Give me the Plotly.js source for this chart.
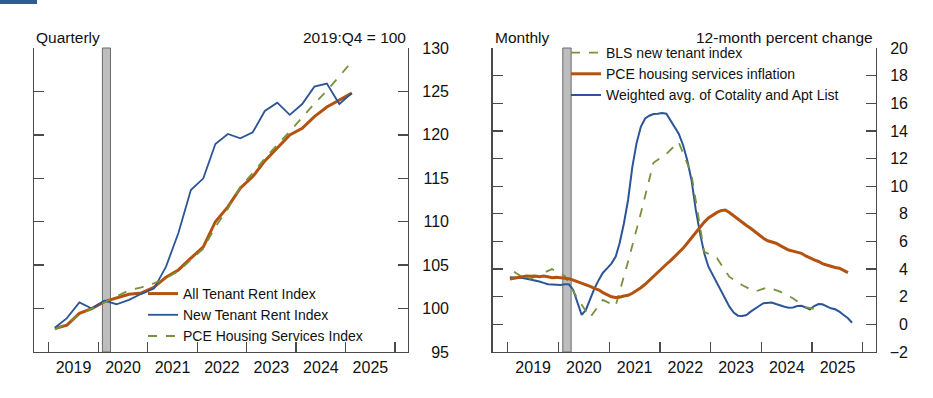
<!DOCTYPE html>
<html><head><meta charset="utf-8">
<script src="https://cdn.plot.ly/plotly-3.0.1.min.js"></script>
<style>html,body{margin:0;padding:0;background:#fff;}#chart{width:933px;height:398px;}</style>
</head><body><div id="chart"></div>
<script>
// ---------- Left panel: quarterly indices, 2019:Q4 = 100 (2019:Q1 .. 2025:Q1)
const quarterStart = "2019Q1";
const allTenantRent = [97.7, 98.1, 99.45, 100.0, 100.8, 101.2, 101.65, 101.8, 102.45, 103.6, 104.45, 105.8, 107.1, 110.0, 111.7, 113.85, 115.2, 117.0, 118.45, 120.0, 120.75, 122.1, 123.2, 124.0, 124.8];
const newTenantRent = [97.8, 98.9, 100.7, 100.0, 100.9, 100.5, 101.0, 101.7, 102.3, 104.8, 108.7, 113.65, 115.0, 118.95, 120.1, 119.6, 120.3, 122.75, 123.7, 122.3, 123.55, 125.55, 125.9, 123.55, 124.8];
const pceHousingIndex = [97.6, 98.3, 99.3, 100.0, 100.7, 101.4, 102.1, 102.45, 102.9, 103.5, 104.3, 105.6, 106.9, 109.4, 111.5, 114.0, 115.6, 117.3, 118.8, 120.4, 122.0, 123.6, 125.1, 126.7, 128.4];

// ---------- Right panel: 12-month percent change
// BLS new tenant index: quarterly, 2019:Q1 .. 2025:Q1
const blsNewTenant = [3.8, 3.2, 3.57, 4.0, 3.5, 1.9, 0.5, 1.77, 1.33, 4.5, 8.0, 11.7, 12.33, 13.2, 10.9, 5.26, 4.8, 3.45, 2.85, 2.37, 2.68, 2.37, 1.89, 1.24, 1.04];
// PCE housing services inflation: monthly, Jan 2019 .. Sep 2025
const pceHousingInflation = [
  3.28, 3.35, 3.4, 3.45, 3.5, 3.48, 3.5, 3.45, 3.5, 3.45, 3.38, 3.4,
  3.38, 3.35, 3.3, 3.2, 3.1, 3.0, 2.85, 2.75, 2.6, 2.5, 2.3, 2.15,
  2.0, 1.95, 1.96, 2.05, 2.1, 2.25, 2.44, 2.65, 2.9, 3.2, 3.5, 3.8,
  4.06, 4.35, 4.6, 4.9, 5.2, 5.5, 5.87, 6.25, 6.65, 7.07, 7.4, 7.7,
  7.92, 8.1, 8.23, 8.28, 8.1, 7.85, 7.6, 7.4, 7.15, 6.95, 6.7, 6.45,
  6.23, 6.05, 5.95, 5.87, 5.7, 5.55, 5.38, 5.3, 5.22, 5.14, 4.95, 4.8,
  4.66, 4.55, 4.4, 4.3, 4.2, 4.12, 4.06, 3.9, 3.74];
// Weighted avg. of Cotality and Apt List: monthly, Jan 2019 .. Oct 2025
const weightedAvg = [
  3.41, 3.4, 3.38, 3.35, 3.3, 3.25, 3.2, 3.1, 3.0, 2.9, 2.88, 2.85,
  2.85, 2.9, 2.9, 2.49, 1.53, 0.68, 1.04, 1.89, 2.6, 3.2, 3.74, 4.05,
  4.4, 4.9, 5.87, 7.3, 9.0, 11.4, 13.1, 14.3, 14.9, 15.1, 15.22, 15.25,
  15.3, 15.25, 14.8, 14.3, 13.8, 12.98, 11.9, 10.45, 8.28, 6.6, 5.14, 4.17,
  3.57, 2.97, 2.37, 1.77, 1.28, 0.85, 0.63, 0.6, 0.68, 0.92, 1.16, 1.33,
  1.53, 1.58, 1.58, 1.47, 1.4, 1.28, 1.2, 1.22, 1.33, 1.35, 1.22, 1.09,
  1.33, 1.47, 1.45, 1.28, 1.16, 1.09, 0.92, 0.68, 0.44, 0.12];

const recession = ["2020-02-01", "2020-04-01"];
const leftTicks = [95, 100, 105, 110, 115, 120, 125, 130];
const rightTicks = [-2, 0, 2, 4, 6, 8, 10, 12, 14, 16, 18, 20];

// date helpers (mid-quarter / mid-month positions)
function pad(n){ return (n < 10 ? "0" : "") + n; }
function quarterDates(start, n){
  let y = +start.slice(0,4), q = +start.slice(5) - 1, out = [];
  for (let i = 0; i < n; i++){ const qq = q + i; out.push((y + Math.floor(qq/4)) + "-" + pad((qq % 4)*3 + 2) + "-15"); }
  return out;
}
function monthDates(y, n){
  const out = [];
  for (let i = 0; i < n; i++) out.push((y + Math.floor(i/12)) + "-" + pad(i % 12 + 1) + "-16");
  return out;
}
const qx = quarterDates(quarterStart, allTenantRent.length);
const mxPce = monthDates(2019, pceHousingInflation.length);
const mxWa = monthDates(2019, weightedAvg.length);

const ORANGE = "#b4520f", BLUE = "#2b5597", GREEN = "#76923c";
const AX = "#4a4a4a";
const FONT = "Liberation Sans, Arial, Helvetica, sans-serif";
const W = 933, H = 398;
const px = v => v / W, py = v => 1 - v / H;

const traces = [
  {x: qx, y: allTenantRent, name: "All Tenant Rent Index", type: "scatter", mode: "lines",
   line: {color: ORANGE, width: 3}, xaxis: "x", yaxis: "y", legend: "legend"},
  {x: qx, y: newTenantRent, name: "New Tenant Rent Index", type: "scatter", mode: "lines",
   line: {color: BLUE, width: 1.8}, xaxis: "x", yaxis: "y", legend: "legend"},
  {x: qx, y: pceHousingIndex, name: "PCE Housing Services Index", type: "scatter", mode: "lines",
   line: {color: GREEN, width: 1.8, dash: "dash"}, xaxis: "x", yaxis: "y", legend: "legend"},
  {x: mxWa, y: weightedAvg, name: "Weighted avg. of Cotality and Apt List", type: "scatter", mode: "lines",
   line: {color: BLUE, width: 2}, xaxis: "x2", yaxis: "y2", legend: "legend2", legendrank: 3},
  {x: qx, y: blsNewTenant, name: "BLS new tenant index", type: "scatter", mode: "lines",
   line: {color: GREEN, width: 1.8, dash: "dash"}, xaxis: "x2", yaxis: "y2", legend: "legend2", legendrank: 1},
  {x: mxPce, y: pceHousingInflation, name: "PCE housing services inflation", type: "scatter", mode: "lines",
   line: {color: ORANGE, width: 3}, xaxis: "x2", yaxis: "y2", legend: "legend2", legendrank: 2},
  // empty helper traces so the label-only axes (y3, y4) get drawn
  {x: [], y: [], type: "scatter", mode: "lines", xaxis: "x", yaxis: "y3", showlegend: false, hoverinfo: "skip"},
  {x: [], y: [], type: "scatter", mode: "lines", xaxis: "x2", yaxis: "y4", showlegend: false, hoverinfo: "skip"}
];

const xCommon = {
  type: "date", range: ["2018-09-14", "2026-04-06"], tickmode: "linear", tick0: "2019-01-01", dtick: "M12",
  tickformat: "%Y", ticklabelmode: "period", ticks: "inside", ticklen: 10, tickwidth: 1.3, tickcolor: AX,
  showline: true, linecolor: AX, linewidth: 1.3, mirror: false, showgrid: false, zeroline: false,
  tickfont: {family: FONT, size: 16, color: "#111"}, fixedrange: true
};
const yCommon = {
  side: "right", ticks: "inside", ticklen: 10, tickwidth: 1.3, tickcolor: AX, showline: true, linecolor: AX,
  linewidth: 1.3, mirror: "ticks", showgrid: false, zeroline: false, showticklabels: false, tickmode: "array", fixedrange: true
};
const yLabels = {
  anchor: "free", side: "left", showline: false, ticks: "", showgrid: false, zeroline: false,
  tickmode: "array", tickfont: {family: FONT, size: 16, color: "#111"}, fixedrange: true
};
const yDom = [py(352), py(48)];

const layout = {
  width: W, height: H, margin: {l: 0, r: 0, t: 0, b: 0}, paper_bgcolor: "#fff", plot_bgcolor: "rgba(0,0,0,0)",
  font: {family: FONT, size: 14, color: "#111"},
  xaxis: Object.assign({}, xCommon, {domain: [px(34), px(408)], anchor: "y"}),
  yaxis: Object.assign({}, yCommon, {domain: yDom, range: [95, 130], tickvals: leftTicks, anchor: "x"}),
  yaxis3: Object.assign({}, yLabels, {overlaying: "y", range: [95, 130], tickvals: leftTicks, position: px(449)}),
  xaxis2: Object.assign({}, xCommon, {domain: [px(492.7), px(876)], anchor: "y2"}),
  yaxis2: Object.assign({}, yCommon, {domain: yDom, range: [-2, 20], tickvals: rightTicks, anchor: "x2"}),
  yaxis4: Object.assign({}, yLabels, {overlaying: "y2", range: [-2, 20], tickvals: rightTicks, position: px(908)}),
  showlegend: true,
  legend: {x: px(143), y: py(278), xanchor: "left", yanchor: "top", bgcolor: "rgba(0,0,0,0)",
           font: {family: FONT, size: 14, color: "#111"}, tracegroupgap: 0},
  legend2: {x: px(566), y: py(37), xanchor: "left", yanchor: "top", bgcolor: "rgba(0,0,0,0)",
            font: {family: FONT, size: 14, color: "#111"}, tracegroupgap: 0, traceorder: "normal"},
  shapes: [
    {type: "rect", xref: "x", yref: "y domain", x0: recession[0], x1: recession[1], y0: 0, y1: 1,
     fillcolor: "#bdbdbd", line: {color: "#6a6a6a", width: 1}, layer: "below"},
    {type: "rect", xref: "x2", yref: "y2 domain", x0: recession[0], x1: recession[1], y0: 0, y1: 1,
     fillcolor: "#bdbdbd", line: {color: "#6a6a6a", width: 1}, layer: "below"},
    {type: "rect", xref: "paper", yref: "paper", x0: 0, x1: px(37), y0: py(4), y1: 1,
     fillcolor: "#2d5b94", line: {width: 0}}
  ],
  annotations: [
    {text: "Quarterly", xref: "paper", yref: "paper", x: px(34), y: py(38), xanchor: "left", yanchor: "middle",
     showarrow: false, font: {family: FONT, size: 15.5, color: "#111"}},
    {text: "2019:Q4 = 100", xref: "paper", yref: "paper", x: px(408), y: py(38), xanchor: "right", yanchor: "middle",
     showarrow: false, font: {family: FONT, size: 15.5, color: "#111"}},
    {text: "Monthly", xref: "paper", yref: "paper", x: px(493), y: py(38), xanchor: "left", yanchor: "middle",
     showarrow: false, font: {family: FONT, size: 15.5, color: "#111"}},
    {text: "12-month percent change", xref: "paper", yref: "paper", x: px(875), y: py(38), xanchor: "right", yanchor: "middle",
     showarrow: false, font: {family: FONT, size: 15.5, color: "#111"}}
  ]
};

Plotly.newPlot("chart", traces, layout, {staticPlot: true, displayModeBar: false});
</script>
</body></html>
